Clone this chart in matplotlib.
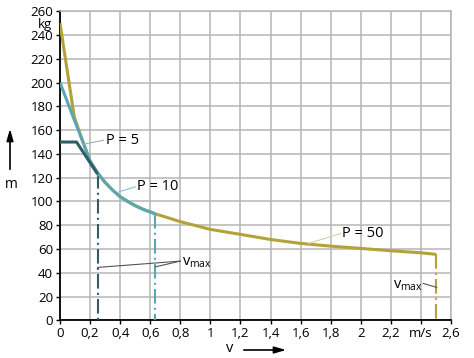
import matplotlib
matplotlib.use("Agg")
import matplotlib.pyplot as plt
import numpy as np

plt.rcParams['font.family'] = ['Open Sans', 'DejaVu Sans']
plt.rcParams['mathtext.fontset'] = 'custom'
plt.rcParams['mathtext.rm'] = 'Open Sans'

# Data
v_p50 = [0.0, 0.095, 0.15, 0.2, 0.25, 0.3, 0.35, 0.4, 0.45, 0.5, 0.55, 0.635, 0.7, 0.8, 1.0, 1.2, 1.4, 1.6, 1.8, 2.0, 2.2, 2.4, 2.5]
m_p50 = [250, 171, 151, 134, 124, 116, 109.5, 104, 100, 96.5, 93.5, 89.5, 87, 83, 76.5, 72.3, 68, 64.7, 62.4, 60.5, 58.5, 56.8, 55.5]
v_p10 = [0.0, 0.1, 0.15, 0.2, 0.25, 0.3, 0.35, 0.4, 0.45, 0.5, 0.55, 0.635]
m_p10 = [200, 167, 151, 134, 124, 116, 109.5, 104, 100, 96.5, 93.5, 89.5]
v_p5 = [0.0, 0.11, 0.25]
m_p5 = [150, 150, 123]
vmax = {'p5': (0.25, 123), 'p10': (0.635, 89.5), 'p50': (2.5, 55.5)}

xticks = [round(0.2 * i, 1) for i in range(14)]
xlabels = ['0', '0,2', '0,4', '0,6', '0,8', '1', '1,2', '1,4', '1,6', '1,8', '2', '2,2', 'm/s', '2,6']
yticks = list(range(0, 261, 20))
ylabels = [str(t) for t in yticks]

c50 = '#b3a23a'
c10 = '#5ba6b0'
c5 = '#2f5e6b'
grid_c = '#b5b5b5'

fig = plt.figure(figsize=(4.74, 3.58), dpi=100)
ax = fig.add_axes([60 / 474, (358 - 320.3) / 358, 391 / 474, 309 / 358])
ax.set_xlim(0, 2.6)
ax.set_ylim(0, 260)
ax.set_xticks(xticks)
ax.set_xticklabels(xlabels, fontsize=9.5)
ax.set_yticks(yticks)
ax.set_yticklabels(ylabels, fontsize=9.5)
ax.grid(True, color=grid_c, lw=1.1, zorder=0)
ax.set_axisbelow(True)
for s in ['top', 'right']:
    ax.spines[s].set_color(grid_c)
    ax.spines[s].set_linewidth(1.1)
for s in ['left', 'bottom']:
    ax.spines[s].set_color('black')
    ax.spines[s].set_linewidth(1.3)
ax.tick_params(direction='out', length=3, width=1, color='black', pad=2)

ds = (0, (7, 2, 1, 2))
ax.plot(v_p50, m_p50, color=c50, lw=2.2, solid_capstyle='butt', solid_joinstyle='round', zorder=3)
ax.plot(v_p10, m_p10, color=c10, lw=2.2, solid_capstyle='butt', solid_joinstyle='round', zorder=4)
ax.plot(v_p5, m_p5, color=c5, lw=2.2, solid_capstyle='butt', solid_joinstyle='round', zorder=5)
for key, col in [('p5', c5), ('p10', c10), ('p50', c50)]:
    x, y = vmax[key]
    ax.plot([x, x], [y, 0], color=col, lw=1.5, linestyle=ds, zorder=3)

# labels and leaders
ax.plot([0.15, 0.29], [148, 151.5], color='#9ab4b8', lw=0.8, zorder=6)
ax.text(0.305, 151.5, 'P = 5', fontsize=10.5, va='center', ha='left')
ax.plot([0.39, 0.50], [108, 112.3], color='#8cc3ca', lw=0.8, zorder=6)
ax.text(0.51, 112.5, 'P = 10', fontsize=10.5, va='center', ha='left')
ax.plot([1.655, 1.865], [64.7, 73.1], color='#d6cf9a', lw=0.8, zorder=6)
ax.text(1.875, 73.4, 'P = 50', fontsize=10.5, va='center', ha='left')

ax.plot([0.25, 0.80], [44.5, 49.8], color='#555555', lw=0.8, zorder=6)
ax.plot([0.635, 0.80], [45, 49.8], color='#555555', lw=0.8, zorder=6)
ax.text(0.81, 49, r'v$_{\mathregular{max}}$', fontsize=10.5, va='center', ha='left')
ax.plot([2.415, 2.505], [31, 27.7], color='#555555', lw=0.8, zorder=6)
ax.text(2.215, 29.5, r'v$_{\mathregular{max}}$', fontsize=10.5, va='center', ha='left')

# axis unit and labels
fig.text(52 / 474, 1 - 18 / 358, 'kg', fontsize=9.5, ha='right', va='top')
fig.text(11 / 474, 1 - 185 / 358, 'm', fontsize=10, ha='center', va='center')
fig.text(230 / 474, 1 - 348 / 358, 'v', fontsize=10.5, ha='center', va='center')
arrow_kw = dict(arrowstyle='-|>,head_length=0.7,head_width=0.2', color='black', lw=1.2)
fig.add_artist(matplotlib.patches.FancyArrowPatch((10 / 474, 1 - 172 / 358), (10 / 474, 1 - 126 / 358),
                                                  transform=fig.transFigure, mutation_scale=10, **arrow_kw))
fig.add_artist(matplotlib.patches.FancyArrowPatch((241 / 474, 1 - 350 / 358), (289 / 474, 1 - 350 / 358),
                                                  transform=fig.transFigure, mutation_scale=10, **arrow_kw))

fig.savefig('out.png', dpi=100)
